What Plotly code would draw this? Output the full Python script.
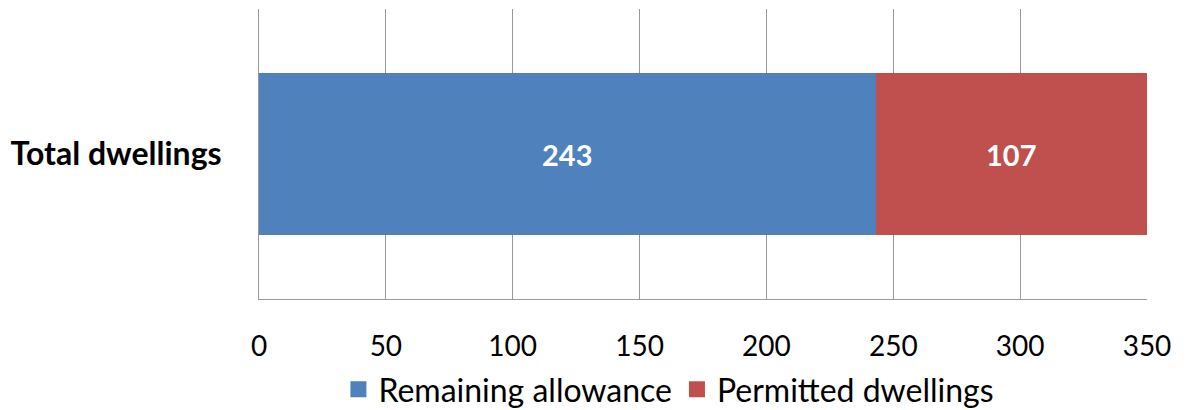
import plotly.graph_objects as go

categories = ["Total dwellings"]
remaining_allowance = [243]
permitted_dwellings = [107]
x_ticks = [0, 50, 100, 150, 200, 250, 300, 350]

FONT = "Lato"
BLUE = "#4F81BD"
RED = "#C0504D"

fig = go.Figure()
for name, vals, color in [("Remaining allowance", remaining_allowance, BLUE),
                          ("Permitted dwellings", permitted_dwellings, RED)]:
    fig.add_trace(go.Bar(
        y=categories, x=vals, orientation="h", name=name, showlegend=False,
        marker=dict(color=color, line=dict(width=0)),
        text=[str(v) for v in vals], textposition="inside",
        insidetextanchor="middle",
        textfont=dict(color="white", size=29, family=FONT, weight="bold"),
    ))
    # legend-only entry with a larger square swatch
    fig.add_trace(go.Scatter(
        x=[None], y=[None], mode="markers", name=name,
        marker=dict(symbol="square", size=19, color=color),
    ))

fig.update_layout(
    barmode="stack",
    bargap=0.438,
    width=1186, height=410,
    margin=dict(l=259, r=39, t=9, b=111, autoexpand=False),
    paper_bgcolor="white", plot_bgcolor="white",
    font=dict(family=FONT, size=28, color="black"),
    showlegend=True,
    legend=dict(orientation="h", xref="container", x=0.564, xanchor="center",
                yref="container", y=0.05, yanchor="middle",
                font=dict(size=32, family=FONT), itemwidth=30, traceorder="normal"),
)
fig.update_xaxes(
    range=[0, 350], tickvals=x_ticks, ticktext=[str(v) for v in x_ticks],
    showgrid=True, gridcolor="#9a9a9a", gridwidth=1,
    showline=True, linecolor="#9a9a9a", linewidth=1,
    ticks="", ticklabelstandoff=22, zeroline=False, automargin=False,
    tickfont=dict(size=28, family=FONT),
)
fig.update_yaxes(
    showgrid=False, showline=True, linecolor="#9a9a9a", linewidth=1,
    ticks="", ticklabelstandoff=30, automargin=False,
    tickfont=dict(size=32, family=FONT, weight="bold"),
)

fig.write_html("out.html")
